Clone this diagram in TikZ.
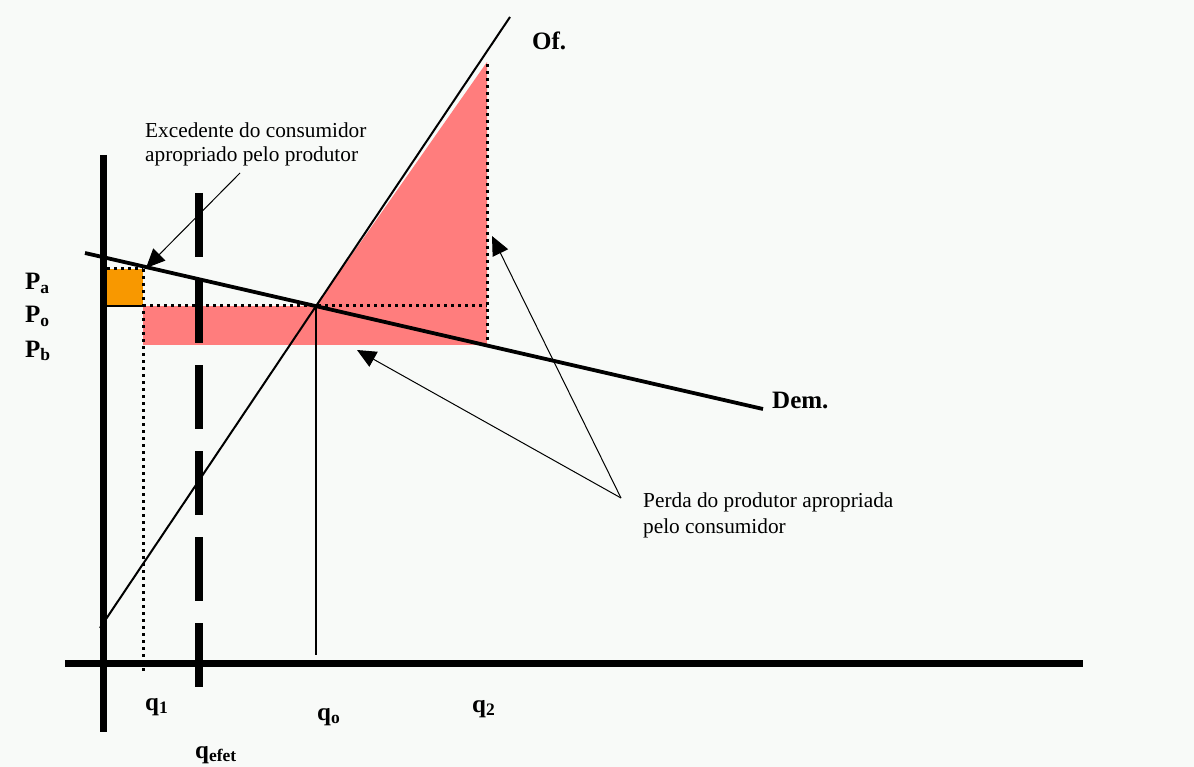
\documentclass[tikz,border=0pt]{standalone}
\usepackage{fontspec}
\setmainfont{Liberation Serif}
\usetikzlibrary{arrows.meta}
\definecolor{bgc}{RGB}{248,250,248}
\definecolor{pinkc}{RGB}{255,125,125}
\definecolor{orangec}{RGB}{248,152,0}
\tikzset{
  axisline/.style={line width=7pt},
  dotline/.style={line width=3pt, dash pattern=on 3pt off 4pt},
  callout/.style={line width=1pt, -{Triangle[length=19pt,width=17pt]}},
  lbl/.style={inner sep=0pt, anchor=base west, font=\fontsize{25}{28}\selectfont\bfseries},
  note/.style={inner sep=0pt, anchor=base west, font=\fontsize{21.3}{24}\selectfont},
}
\begin{document}
\begin{tikzpicture}[x=1pt,y=-1pt]
\fill[bgc] (0,0) rectangle (1194,767);
\useasboundingbox (0,0) rectangle (1194,767);
% shaded areas
\fill[pinkc] (143,306) rectangle (487,345);
\fill[pinkc] (316,306) -- (487,62) -- (487,306) -- cycle;
\fill[orangec] (107,269) rectangle (143,306);
% guide lines
\coordinate (oTL) at (107,269);
\coordinate (oTR) at (143,269);
\coordinate (oBL) at (107,306);
\coordinate (oBR) at (143,306);
\coordinate (q1b) at (143,672);
\coordinate (q2t) at (487,64);
\coordinate (q2b) at (487,345);
\coordinate (poR) at (487,306);
\coordinate (eq) at (316,306);
\coordinate (q0b) at (316,655);
\draw[dotline] (oTL) -- (oTR);
\draw[dotline] (oTR) -- (q1b);
\draw[line width=1.2pt] (oBL) -- (oBR);
\draw[dotline] (oBR) -- (poR);
\draw[dotline] (q2t) -- (q2b);
\draw[line width=1.3pt] (eq) -- (q0b);
% supply and demand
\coordinate (sA) at (100,628);
\coordinate (sB) at (510,17);
\coordinate (dA) at (85,253);
\coordinate (dB) at (763,409);
\draw[line width=2pt] (sA) -- (sB);
\draw[line width=3.8pt] (dA) -- (dB);
% axes
\coordinate (vT) at (103,155);
\coordinate (vB) at (103,732);
\coordinate (hL) at (65,663);
\coordinate (hR) at (1083,663);
\draw[axisline] (vT) -- (vB);
\draw[axisline] (hL) -- (hR);
\coordinate (eT) at (199,193);
\coordinate (eB) at (199,697);
\draw[line width=7.5pt, dash pattern=on 64pt off 22pt] (eT) -- (eB);
% labels
\node[lbl] (of) at (532,50) {Of.};
\node[lbl] (dem) at (772,408) {Dem.};
\node[lbl] (pa) at (25,290) {P\textsubscript{a}};
\node[lbl] (po) at (25,323) {P\textsubscript{o}};
\node[lbl] (pb) at (25,357) {P\textsubscript{b}};
\node[lbl] (q1) at (145,710) {q\textsubscript{1}};
\node[lbl] (q0) at (317,720) {q\textsubscript{o}};
\node[lbl] (q2) at (472,712) {q\textsubscript{2}};
\node[lbl] (qe) at (195,758) {q\textsubscript{efet}};
% notes
\node[note] (n1a) at (145,138) {Excedente do consumidor};
\node[note] (n1b) at (145,162) {apropriado pelo produtor};
\node[note] (n2a) at (643,507) {Perda do produtor apropriada};
\node[note] (n2b) at (643,533) {pelo consumidor};
% callouts
\coordinate (c1s) at (240,173);
\coordinate (c1t) at (146,268);
\coordinate (c2s) at (621,498);
\coordinate (c2t) at (357,350);
\coordinate (c3t) at (492,236);
\draw[callout] (c1s) -- (c1t);
\draw[callout] (c2s) -- (c2t);
\draw[callout] (c2s) -- (c3t);
\end{tikzpicture}
\end{document}
